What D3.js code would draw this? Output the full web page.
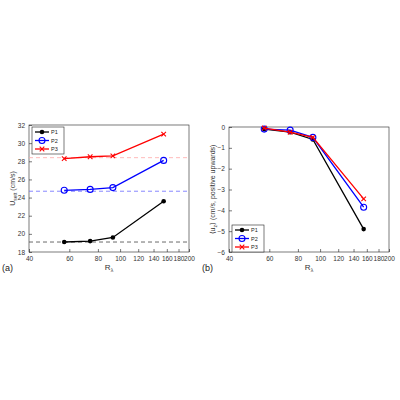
<!DOCTYPE html>
<html><head><meta charset="utf-8">
<script src="https://cdn.jsdelivr.net/npm/d3@7"></script>
<style>body{margin:0;background:#fff}text{font-family:Arial,"Liberation Sans",sans-serif}</style>
</head><body><svg id="c" width="400" height="400"></svg>
<script>
const rl = [57, 74, 93, 155];
const series = ["P1", "P2", "P3"];
const colors = ["#000", "#0000ff", "#ff0000"];
const uset = [[19.1, 19.2, 19.6, 23.6], [24.8, 24.9, 25.1, 28.1], [28.3, 28.5, 28.6, 31.0]];
const refs = [19.1, 24.7, 28.4];
const refColors = ["#444", "#6a6aff", "#ffaaaa"];
const uz = [[-0.1, -0.25, -0.6, -4.9], [-0.1, -0.15, -0.5, -3.85], [-0.05, -0.25, -0.5, -3.45]];
const xTicks = [40, 60, 80, 100, 120, 140, 160, 180, 200];

const svg = d3.select("#c");

function panel(left, top, right, bottom, yDom, yTicks, data, ylab, letter, legendY, refLines) {
  const x = d3.scaleLog().domain([40, 200]).range([left, right]);
  const y = d3.scaleLinear().domain(yDom).range([bottom, top]);
  const g = svg.append("g");
  g.append("rect").attr("x", left).attr("y", top).attr("width", right - left).attr("height", bottom - top)
    .attr("fill", "none").attr("stroke", "#222").attr("stroke-width", 0.6);
  const ax = g.append("g").attr("transform", `translate(0,${bottom})`)
    .call(d3.axisBottom(x).tickValues(xTicks).tickFormat(d3.format("d")).tickSize(-3).tickPadding(4));
  const ay = g.append("g").attr("transform", `translate(${left},0)`)
    .call(d3.axisLeft(y).tickValues(yTicks).tickFormat(d3.format("d")).tickSize(-3).tickPadding(4));
  [ax, ay].forEach(a => {
    a.select(".domain").remove();
    a.selectAll("line").attr("stroke", "#222").attr("stroke-width", 0.6);
    a.selectAll("text").attr("font-size", 6.5).attr("fill", "#333");
  });
  if (refLines) refLines.forEach((v, i) => g.append("line").attr("x1", left).attr("x2", right)
    .attr("y1", y(v)).attr("y2", y(v)).attr("stroke", refColors[i]).attr("stroke-width", 0.8).attr("stroke-dasharray", "4,3"));
  data.forEach((s, i) => {
    const pts = s.map((v, j) => [x(rl[j]), y(v)]);
    g.append("path").attr("d", d3.line()(pts)).attr("fill", "none").attr("stroke", colors[i]).attr("stroke-width", 1.3);
    pts.forEach(p => marker(g, i, p[0], p[1]));
  });
  g.append("text").attr("x", (left + right) / 2).attr("y", bottom + 18).attr("text-anchor", "middle")
    .attr("font-size", 8).attr("fill", "#333").html('R<tspan font-size="5" dy="2">λ</tspan>');
  g.append("text").attr("transform", `translate(${left - 14},${(top + bottom) / 2}) rotate(-90)`)
    .attr("text-anchor", "middle").attr("font-size", 7).attr("fill", "#333").html(ylab);
  g.append("text").attr("x", left - 27).attr("y", bottom + 19).attr("font-size", 9).attr("fill", "#222").text(letter);
  // legend
  const lx = left + 3, ly = legendY;
  g.append("rect").attr("x", lx).attr("y", ly).attr("width", 32).attr("height", 27)
    .attr("fill", "#fff").attr("stroke", "#222").attr("stroke-width", 0.6);
  series.forEach((n, i) => {
    const yy = ly + 5 + i * 8.5;
    g.append("line").attr("x1", lx + 3).attr("x2", lx + 17).attr("y1", yy).attr("y2", yy)
      .attr("stroke", colors[i]).attr("stroke-width", 1.3);
    marker(g, i, lx + 10, yy);
    g.append("text").attr("x", lx + 19).attr("y", yy + 2).attr("font-size", 5.5).attr("fill", "#222").text(n);
  });
}

function marker(g, i, cx, cy) {
  if (i === 0) {
    g.append("circle").attr("cx", cx).attr("cy", cy).attr("r", 2.3).attr("fill", "#000");
  } else if (i === 1) {
    g.append("circle").attr("cx", cx).attr("cy", cy).attr("r", 3).attr("fill", "none").attr("stroke", colors[1]).attr("stroke-width", 1.1);
  } else {
    g.append("path").attr("d", `M${cx - 2.3},${cy - 2.3}L${cx + 2.3},${cy + 2.3}M${cx - 2.3},${cy + 2.3}L${cx + 2.3},${cy - 2.3}`)
      .attr("stroke", colors[2]).attr("stroke-width", 1.1);
  }
}

panel(29, 125, 189, 252, [18, 32], d3.range(18, 33, 2), uset,
  'U<tspan font-size="5" dy="2">sett</tspan><tspan dy="-2"> (cm/s)</tspan>', "(a)", 127, refs);
panel(229, 127, 389, 252, [-6, 0], d3.range(-6, 1, 1), uz,
  '⟨u<tspan font-size="5" dy="2">z</tspan><tspan dy="-2">⟩ (cm/s, positive upwards)</tspan>', "(b)", 225, null);
</script></body></html>
